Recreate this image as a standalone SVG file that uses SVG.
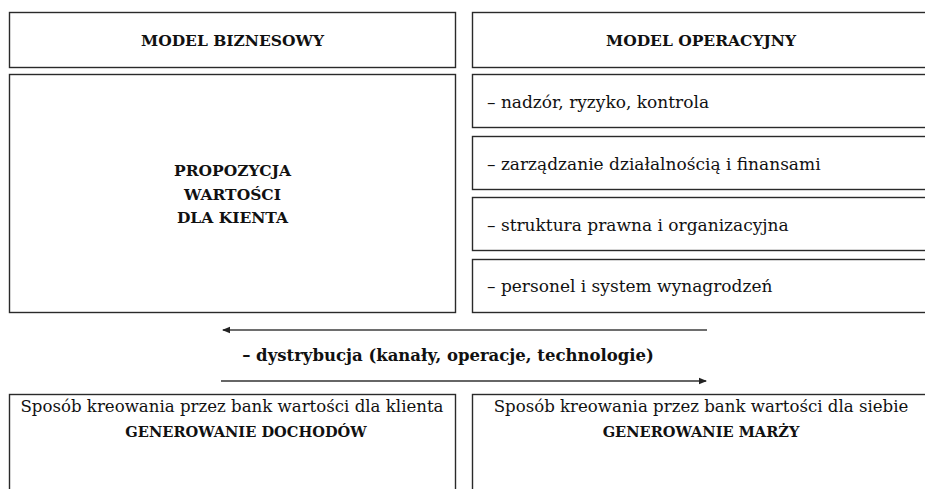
<svg xmlns="http://www.w3.org/2000/svg" width="925" height="489" viewBox="0 0 925 489">
<style>
.box{fill:#fff;stroke:#2a2a2a;stroke-width:1.4}
.t{font-family:"DejaVu Serif","Liberation Serif",serif;font-size:15.5px;fill:#111}
.r{font-size:17px}
.q{font-size:16.6px}
.b{font-weight:bold}
.c{text-anchor:middle}
.s{font-size:14.6px}
</style>
<defs>
<marker id="ah" markerWidth="8" markerHeight="8" refX="7" refY="4" orient="auto" markerUnits="userSpaceOnUse">
<path d="M0,0.8 L8,4 L0,7.2 Z" fill="#222"/>
</marker>
</defs>
<rect width="925" height="489" fill="#fff"/>
<g id="model-biznesowy">
<rect class="box" x="9.5" y="12.5" width="446" height="55"/>
<text class="t b c" x="232.5" y="45.5">MODEL BIZNESOWY</text>
</g>
<g id="model-operacyjny">
<rect class="box" x="472.5" y="12.5" width="470" height="55"/>
<text class="t b c" x="701" y="45.5">MODEL OPERACYJNY</text>
</g>
<g id="propozycja">
<rect class="box" x="9.5" y="74.5" width="446" height="238"/>
<text class="t b c" x="232.5" y="176">PROPOZYCJA</text>
<text class="t b c" x="232.5" y="199.5">WARTOŚCI</text>
<text class="t b c" x="232.5" y="223">DLA KIENTA</text>
</g>
<g id="nadzor">
<rect class="box" x="472.5" y="74.5" width="470" height="53"/>
<text class="t r" x="487" y="107.5">– nadzór, ryzyko, kontrola</text>
</g>
<g id="zarzadzanie">
<rect class="box" x="472.5" y="136.5" width="470" height="53"/>
<text class="t r" x="487" y="169.5">– zarządzanie działalnością i finansami</text>
</g>
<g id="struktura">
<rect class="box" x="472.5" y="197.5" width="470" height="53"/>
<text class="t r" x="487" y="230.5">– struktura prawna i organizacyjna</text>
</g>
<g id="personel">
<rect class="box" x="472.5" y="259.5" width="470" height="53"/>
<text class="t r" x="487" y="292">– personel i system wynagrodzeń</text>
</g>
<g id="dystrybucja">
<text class="t b c" x="448" y="361" style="font-size:16.5px">– dystrybucja (kanały, operacje, technologie)</text>
</g>
<g id="dochody">
<rect class="box" x="9.5" y="394.5" width="446" height="110"/>
<text class="t q c" x="232" y="411.5">Sposób kreowania przez bank wartości dla klienta</text>
<text class="t b c s" x="246" y="437">GENEROWANIE DOCHODÓW</text>
</g>
<g id="marza">
<rect class="box" x="472.5" y="394.5" width="470" height="110"/>
<text class="t q c" x="701" y="411.5">Sposób kreowania przez bank wartości dla siebie</text>
<text class="t b c s" x="701" y="437">GENEROWANIE MARŻY</text>
</g>
<g id="connectors">
<line x1="707" y1="330" x2="223" y2="330" stroke="#6e6e6e" stroke-width="2" marker-end="url(#ah)"/>
<line x1="221" y1="381" x2="706" y2="381" stroke="#333" stroke-width="1.6" marker-end="url(#ah)"/>
</g>
</svg>
